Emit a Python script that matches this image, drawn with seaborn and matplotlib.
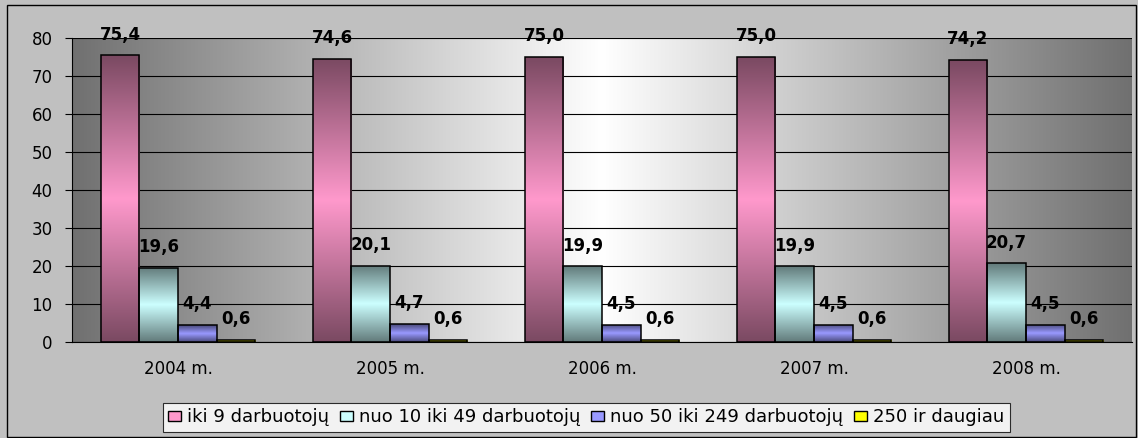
import numpy as np
import pandas as pd
import matplotlib
matplotlib.use('Agg')
import matplotlib.pyplot as plt
import seaborn as sns
from matplotlib.patches import Rectangle, Patch
from matplotlib.colors import to_rgb

# Chart data
years = ['2004 m.', '2005 m.', '2006 m.', '2007 m.', '2008 m.']
series_names = ['iki 9 darbuotojų', 'nuo 10 iki 49 darbuotojų',
                'nuo 50 iki 249 darbuotojų', '250 ir daugiau']
iki_9 = [75.4, 74.6, 75.0, 75.0, 74.2]
nuo_10_49 = [19.6, 20.1, 19.9, 19.9, 20.7]
nuo_50_249 = [4.4, 4.7, 4.5, 4.5, 4.5]
virs_250 = [0.6, 0.6, 0.6, 0.6, 0.6]
series_colors = ['#FF99CC', '#CCFFFF', '#9999FF', '#FFFF00']

sns.set_theme(style='white')
plt.rcParams['font.family'] = ['DejaVu Sans']
plt.rcParams['text.color'] = 'black'

rows = []
for name, vals in zip(series_names, [iki_9, nuo_10_49, nuo_50_249, virs_250]):
    for yr, v in zip(years, vals):
        rows.append({'Metai': yr, 'Grupe': name, 'Dalis': v})
df = pd.DataFrame(rows)

fig = plt.figure(figsize=(11.38, 4.38), dpi=100, facecolor='#c0c0c0')
ax = fig.add_axes([72 / 1138, 1 - 342 / 438, (1132 - 72) / 1138, (342 - 38) / 438])
ax.set_facecolor('#c0c0c0')

sns.barplot(data=df, x='Metai', y='Dalis', hue='Grupe', order=years,
            hue_order=series_names, palette=series_colors, width=0.73,
            edgecolor='black', linewidth=1.1, legend=False, ax=ax)

ax.set_xlim(-0.5, len(years) - 0.5)
ax.set_ylim(0, 80)

# plot area background: dark at the sides, white in the middle
xs = np.linspace(0, 1, 400)
shade = 0.44 + 0.56 * (1 - np.abs(xs - 0.5) * 2)
bg = np.dstack([shade, shade, shade]).reshape(1, -1, 3)
ax.imshow(bg, extent=(-0.5, len(years) - 0.5, 0, 80), aspect='auto',
          zorder=0, interpolation='bilinear')

# bars: dark - light - dark vertical gradient
t = np.linspace(0, 1, 200)
mix = 1 - np.abs(t - 0.5) * 2
for i, cont in enumerate(ax.containers):
    base = np.array(to_rgb(series_colors[i]))
    dark = base * 0.48
    grad = dark[None, :] + (base - dark)[None, :] * mix[:, None]
    grad = grad[:, None, :]
    for p in cont.patches:
        x0, y0 = p.get_x(), p.get_y()
        w, h = p.get_width(), p.get_height()
        im = ax.imshow(grad, extent=(x0, x0 + w, y0, y0 + h), origin='lower',
                       aspect='auto', zorder=2, interpolation='bilinear')
        im.set_clip_path(p)
        p.set_facecolor('none')
        p.set_zorder(3)
    labels = [f'{v:.1f}'.replace('.', ',') for v in cont.datavalues]
    for p, lab in zip(cont.patches, labels):
        ax.annotate(lab, (p.get_x() + p.get_width() / 2, p.get_height()),
                    xytext=(0, 15), textcoords='offset points',
                    ha='center', va='center', fontsize=12, fontweight='bold',
                    color='black', zorder=4)

ax.set_aspect('auto')
ax.set_xlim(-0.5, len(years) - 0.5)
ax.set_ylim(0, 80)

# axes, ticks, grid
ax.set_axisbelow(True)
ax.yaxis.grid(True, color='black', linewidth=0.8)
ax.set_yticks(range(0, 81, 10))
ax.set_xticks(range(len(years)))
ax.set_xticklabels(years)
ax.set_xticks(np.arange(-0.5, len(years), 1), minor=True)
ax.tick_params(axis='x', which='major', length=0, pad=13, labelsize=12, colors='black')
ax.tick_params(axis='x', which='minor', length=5, width=0.8, color='black', direction='out')
ax.tick_params(axis='y', length=5, width=0.8, color='black', direction='out',
               pad=9, labelsize=12, labelcolor='black', left=True)
ax.set_xlabel('')
ax.set_ylabel('')
for side in ['top', 'right']:
    ax.spines[side].set_visible(False)
for side in ['left', 'bottom']:
    ax.spines[side].set_color('black')
    ax.spines[side].set_linewidth(0.8)

# legend
handles = [Patch(facecolor=c, edgecolor='black', linewidth=1.0) for c in series_colors]
leg = fig.legend(handles, series_names, loc='upper left',
                 bbox_to_anchor=(163 / 1138, 1 - 403 / 438), ncol=4,
                 frameon=True, fancybox=False, fontsize=13,
                 handlelength=0.7, handleheight=0.5, handletextpad=0.35,
                 columnspacing=0.6, borderpad=0.3, borderaxespad=0)
leg.get_frame().set_edgecolor('black')
leg.get_frame().set_linewidth(0.8)
leg.get_frame().set_facecolor('white')
for txt in leg.get_texts():
    txt.set_color('black')

# outer chart border
fig.patches.append(Rectangle((7 / 1138, 1 / 438), (1136 - 7) / 1138, (433 - 1) / 438,
                             transform=fig.transFigure, fill=False,
                             edgecolor='black', linewidth=1.0))

fig.savefig('out.png', dpi=100, facecolor=fig.get_facecolor())
